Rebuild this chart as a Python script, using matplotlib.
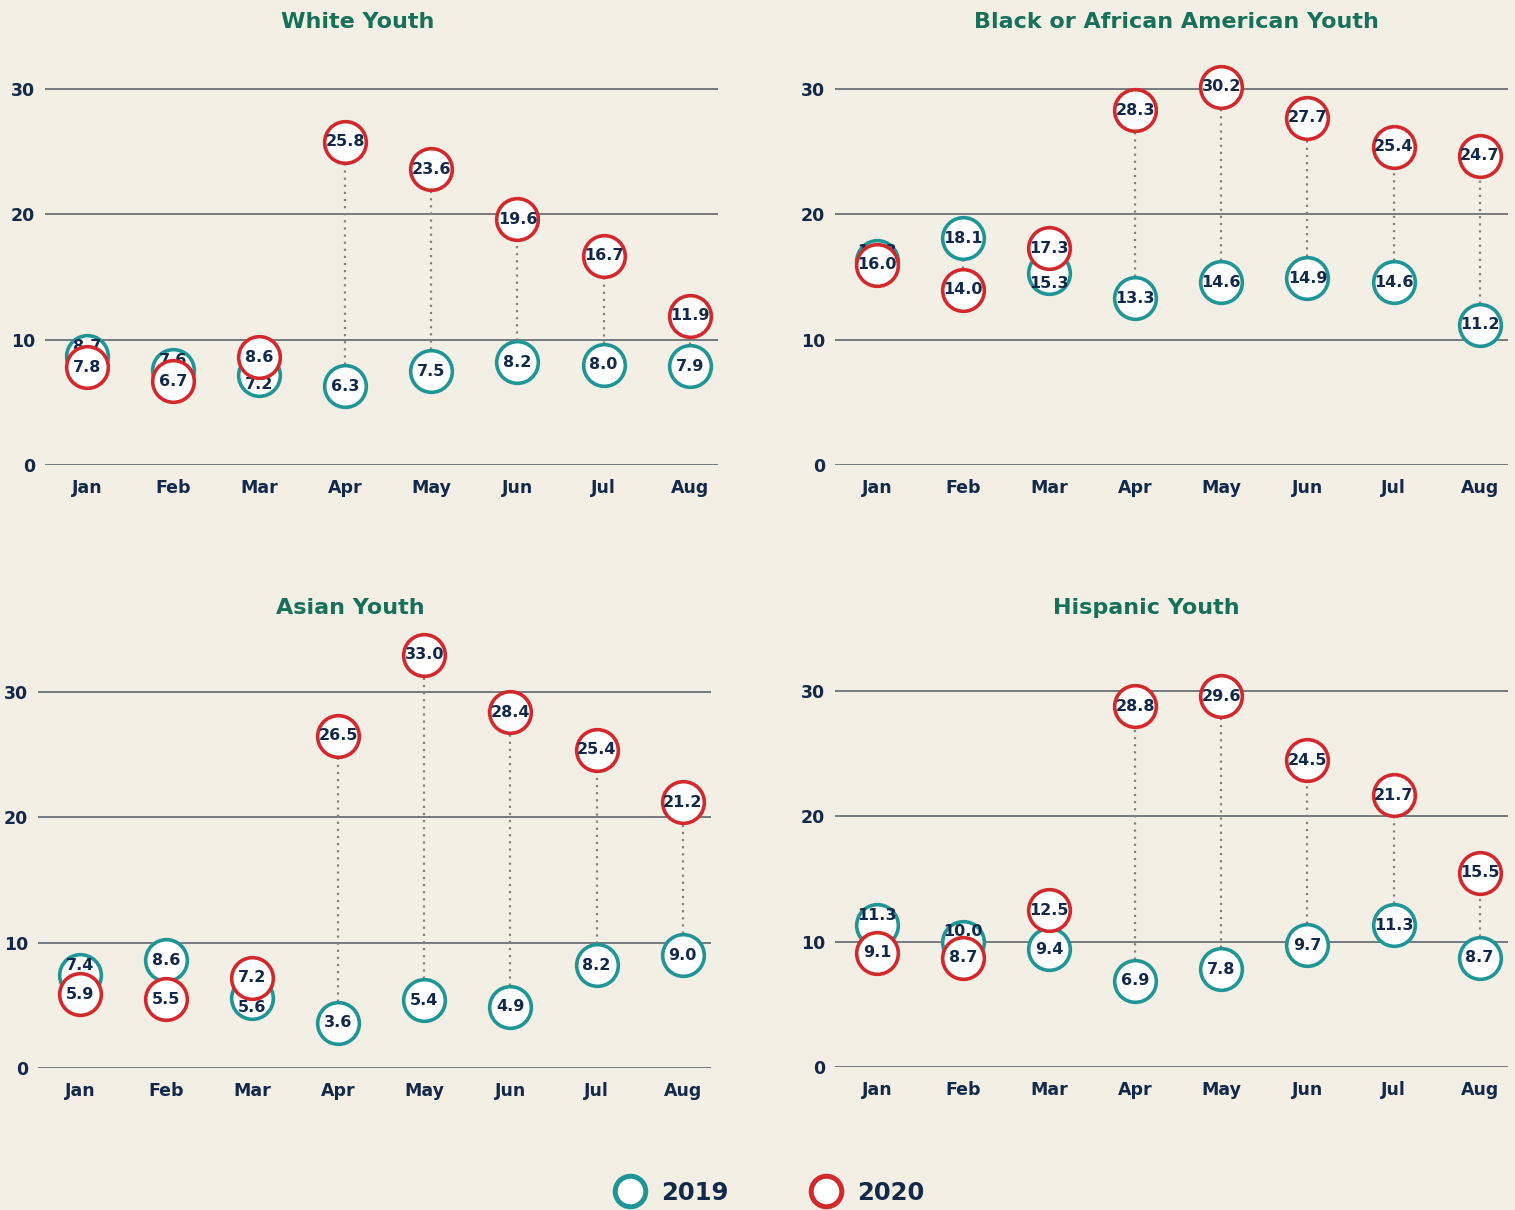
import matplotlib
matplotlib.use("Agg")
import matplotlib.pyplot as plt
from matplotlib.lines import Line2D

months = ["Jan", "Feb", "Mar", "Apr", "May", "Jun", "Jul", "Aug"]

titles = ["White Youth", "Black or African American Youth", "Asian Youth", "Hispanic Youth"]

white_2019 = [8.7, 7.6, 7.2, 6.3, 7.5, 8.2, 8.0, 7.9]
white_2020 = [7.8, 6.7, 8.6, 25.8, 23.6, 19.6, 16.7, 11.9]
black_2019 = [16.3, 18.1, 15.3, 13.3, 14.6, 14.9, 14.6, 11.2]
black_2020 = [16.0, 14.0, 17.3, 28.3, 30.2, 27.7, 25.4, 24.7]
asian_2019 = [7.4, 8.6, 5.6, 3.6, 5.4, 4.9, 8.2, 9.0]
asian_2020 = [5.9, 5.5, 7.2, 26.5, 33.0, 28.4, 25.4, 21.2]
hisp_2019 = [11.3, 10.0, 9.4, 6.9, 7.8, 9.7, 11.3, 8.7]
hisp_2020 = [9.1, 8.7, 12.5, 28.8, 29.6, 24.5, 21.7, 15.5]

BG = "#F4EFE4"
TEAL = "#1F9596"
RED = "#D22A2C"
NAVY = "#13294B"
GREEN = "#17705A"
GRID = "#5E6770"
DOT = "#8A7F78"

plt.rcParams["font.family"] = ["DejaVu Sans"]
plt.rcParams["font.weight"] = "bold"

fig = plt.figure(figsize=(15.15, 12.10), dpi=100, facecolor=BG)
W, H = 1515.0, 1210.0

# axes boxes: left px, bottom px, ylim top, title x px, title y px
panels = [
    (45, 465, 33, 358, 22, white_2019, white_2020),
    (835, 465, 33, 1176, 22, black_2019, black_2020),
    (38, 1068, 35, 350, 608, asian_2019, asian_2020),
    (835, 1067, 35, 1146, 608, hisp_2019, hisp_2020),
]

px_per_unit = 12.53
for (lx, by, ytop, tx, ty, v19, v20), title in zip(panels, titles):
    ax = fig.add_axes([lx / W, 1 - by / H, 673 / W, ytop * px_per_unit / H])
    ax.set_facecolor(BG)
    x = list(range(len(months)))
    for i in x:
        ax.plot([i, i], [v19[i], v20[i]], color=DOT, linestyle=(0, (1, 2.2)),
                linewidth=1.6, zorder=2)
    ax.plot(x, v19, "o", markersize=30, markerfacecolor="white",
            markeredgecolor=TEAL, markeredgewidth=2.6, zorder=3)
    for i, v in enumerate(v19):
        # when the 2020 circle sits on top, push the 2019 label to the free side
        dy = 0
        if abs(v - v20[i]) < 2.5:
            dy = 7 if v >= v20[i] else -7
        ax.annotate(f"{v:.1f}", (i, v), xytext=(0, dy), textcoords="offset points",
                    ha="center", va="center", fontsize=11.5,
                    color=NAVY, fontweight="bold", zorder=4)
    ax.plot(x, v20, "o", markersize=30, markerfacecolor="white",
            markeredgecolor=RED, markeredgewidth=2.6, zorder=5)
    for i, v in enumerate(v20):
        ax.text(i, v, f"{v:.1f}", ha="center", va="center", fontsize=11.5,
                color=NAVY, fontweight="bold", zorder=6)

    ax.set_xlim(-0.49, 7.33)
    ax.set_ylim(0, ytop)
    ax.set_yticks([0, 10, 20, 30])
    ax.set_xticks(x)
    ax.set_xticklabels(months)
    for s in ax.spines.values():
        s.set_visible(False)
    ax.grid(axis="y", color=GRID, linewidth=1.2, zorder=1)
    ax.set_axisbelow(True)
    ax.tick_params(axis="both", length=0, labelcolor=NAVY, labelsize=12.5)
    ax.tick_params(axis="x", pad=10)
    ax.tick_params(axis="y", pad=7)
    for lab in ax.get_xticklabels() + ax.get_yticklabels():
        lab.set_fontweight("bold")

    fig.text(tx / W, 1 - ty / H, title, ha="center", va="center",
             fontsize=16, fontweight="bold", color=GREEN)

handles = [
    Line2D([], [], marker="o", linestyle="none", markersize=22,
           markerfacecolor="white", markeredgecolor=TEAL, markeredgewidth=3.6),
    Line2D([], [], marker="o", linestyle="none", markersize=22,
           markerfacecolor="white", markeredgecolor=RED, markeredgewidth=3.6),
]
leg = fig.legend(handles, ["2019", "2020"], loc="center", ncol=2,
                 bbox_to_anchor=(0.505, 1 - 1193 / H), frameon=False,
                 prop={"size": 17.5, "weight": "bold"}, columnspacing=3.0,
                 handletextpad=0.3)
for t in leg.get_texts():
    t.set_color(NAVY)

fig.savefig("out.png", dpi=100, facecolor=BG)
